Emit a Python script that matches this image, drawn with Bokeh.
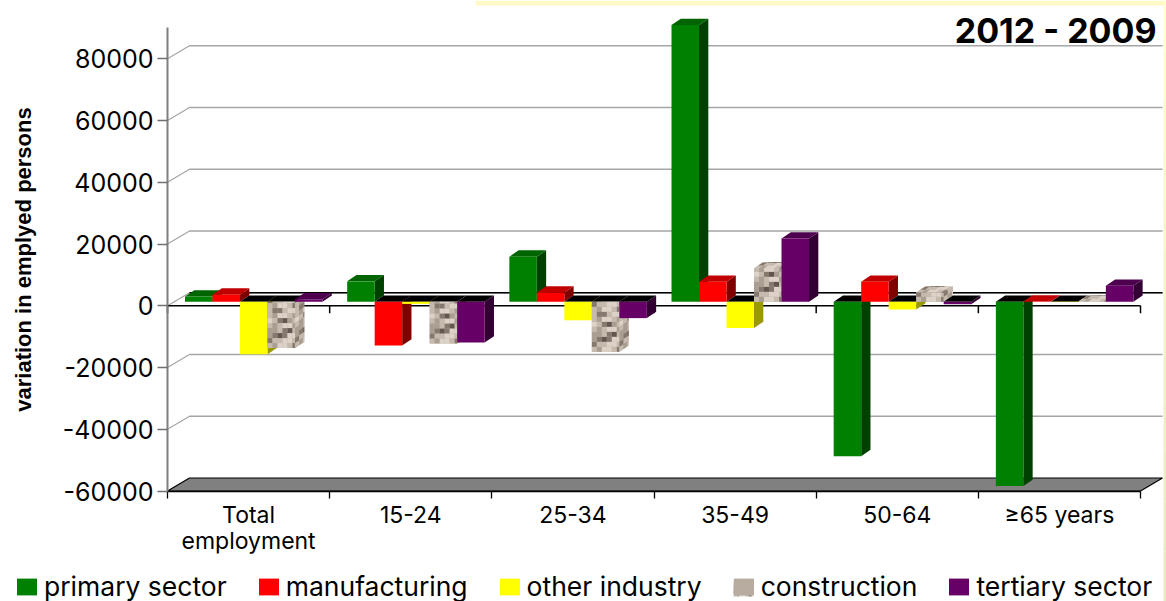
from bokeh.embed import file_html
from bokeh.resources import INLINE
from bokeh.plotting import figure
from bokeh.models import (Range1d, LinearAxis, FixedTicker, Legend, LegendItem)

# Chart values: change in employed persons by age band and sector
categories = ["Total\nemployment", "15-24", "25-34", "35-49", "50-64", "≥65 years"]
series_names = ["primary sector", "manufacturing", "other industry", "construction", "tertiary sector"]
primary_sector = [1700, 6600, 14600, 89600, -50000, -59700]
manufacturing = [2300, -14200, 3000, 6500, 6500, 100]
other_industry = [-17000, -700, -6000, -8500, -2500, -100]
construction = [-15000, -13500, -16200, 10800, 3000, 100]
tertiary_sector = [800, -13200, -5300, 20500, -800, 5200]
y_ticks = [-60000, -40000, -20000, 0, 20000, 40000, 60000, 80000]
title_text = "2012 - 2009"
y_title = "variation in emplyed persons"

all_series = [primary_sector, manufacturing, other_industry, construction, tertiary_sector]
front_colors = ["#008000", "#FF0000", "#FFFF00", "#B8ACA0", "#660066"]
top_colors = ["#006400", "#C00000", "#C8C800", "#C8BEB2", "#4D004D"]
side_colors = ["#004000", "#800000", "#999900", "#A89C90", "#330033"]

# Page geometry, as pixels per data unit
W, H = 1166, 601
GROUP_PX = 162.17
VALUE_PX = 185.25 / 60000
LEFT_PX = 167.0
ZERO_PX = 305.25


def px_x(px):
    return px / GROUP_PX


def px_y(px):
    return px / VALUE_PX


def page_x(px):
    return (px - LEFT_PX) / GROUP_PX


def page_y(px):
    return (ZERO_PX - px) / VALUE_PX


WALL_X, WALL_Y = px_x(22), px_y(13)
BAR_W = px_x(27.5)
BAR_GAP = px_x(12.5)
BAR_X, BAR_Y = px_x(5), px_y(4)
DEPTH_X, DEPTH_Y = px_x(9.3), px_y(6.3)

p = figure(width=W, height=H, output_backend="svg", toolbar_location=None,
           x_range=Range1d(page_x(0), page_x(W)), y_range=Range1d(page_y(H), page_y(0)),
           min_border=0, outline_line_color=None, x_axis_type=None, y_axis_type=None)
p.grid.visible = False
p.background_fill_color = "white"
p.border_fill_color = "white"

# Pale slide edge along the top and right of the page
p.quad(left=[page_x(475)], right=[page_x(W)], top=[page_y(0)], bottom=[page_y(5)],
       fill_color="#FFF9C8", line_color=None)
edge_steps = 12
p.quad(left=[page_x(1163)] * edge_steps, right=[page_x(W)] * edge_steps,
       top=[page_y(H * k / edge_steps) for k in range(edge_steps)],
       bottom=[page_y(H * (k + 1) / edge_steps) for k in range(edge_steps)],
       fill_color=[f"#{255 - 2 * k:02X}{255 - 2 * k:02X}{204 - 1 * k:02X}" for k in range(edge_steps)],
       line_color=None)

# Back wall gridlines with their diagonal returns to the axis
grid_xs = [[0, WALL_X, len(categories) + WALL_X] for v in y_ticks if v != -60000]
grid_ys = [[v, v + WALL_Y, v + WALL_Y] for v in y_ticks if v != -60000]
p.multi_line(grid_xs, grid_ys, line_color="#A6A6A6", line_width=1.3)

# Floor of the chart box
n_groups = len(categories)
floor_v = min(y_ticks)
p.patch([0, WALL_X, n_groups + WALL_X, n_groups],
        [floor_v, floor_v + WALL_Y, floor_v + WALL_Y, floor_v],
        fill_color="#808080", line_color="#000000", line_width=1.2)

# Zero plane: back edge, front edge and its tick marks
p.line([WALL_X, n_groups + WALL_X], [WALL_Y, WALL_Y], line_color="#000000", line_width=1.5)
p.line([0, n_groups], [0, 0], line_color="#000000", line_width=1.5)
tick_len = px_y(7.5)
p.multi_line([[k, k] for k in range(n_groups + 1)], [[0, -tick_len] for _ in range(n_groups + 1)],
             line_color="#000000", line_width=1.5)

# Stone tile used for the construction series
stone_tile = ["bcaabdcb",
              "ccdbbaab",
              "aacbcded",
              "bdebabcc",
              "bcbaacab",
              "caabdecb",
              "bccbbcaa",
              "dbaacbbd"]
stone_shades = {"a": "#DCD2C8", "b": "#C6BAAE", "c": "#AA9E92", "d": "#85796F", "e": "#61574F"}


def stone_face(origin, u, v, cell=5.0):
    """Tile a parallelogram given in data units with stone cells; u and v are edges."""
    xs, ys, colors = [], [], []
    u_len = ((u[0] / px_x(1)) ** 2 + (u[1] / px_y(1)) ** 2) ** 0.5
    v_len = ((v[0] / px_x(1)) ** 2 + (v[1] / px_y(1)) ** 2) ** 0.5
    if u_len < 0.5 or v_len < 0.5:
        return xs, ys, colors
    nu, nv = max(1, int(u_len // cell + 1)), max(1, int(v_len // cell + 1))
    for a in range(nu):
        for b in range(nv):
            a0, a1 = a * cell / u_len, min(1.0, (a + 1) * cell / u_len)
            b0, b1 = b * cell / v_len, min(1.0, (b + 1) * cell / v_len)
            if a0 >= 1 or b0 >= 1:
                continue
            corners = [(a0, b0), (a1, b0), (a1, b1), (a0, b1)]
            xs.append([origin[0] + s * u[0] + t * v[0] for s, t in corners])
            ys.append([origin[1] + s * u[1] + t * v[1] for s, t in corners])
            colors.append(stone_shades[stone_tile[b % 8][(a + 2 * b) % 8]])
    return xs, ys, colors


legend_items = []
for j, (name, values) in enumerate(zip(series_names, all_series)):
    left = [i + BAR_X + BAR_GAP + j * BAR_W for i in range(n_groups)]
    right = [x + BAR_W for x in left]
    low = [BAR_Y + min(v, 0) for v in values]
    high = [BAR_Y + max(v, 0) for v in values]

    side_x = [[r, r + DEPTH_X, r + DEPTH_X, r] for r in right]
    side_y = [[b, b + DEPTH_Y, t + DEPTH_Y, t] for b, t in zip(low, high)]
    top_x = [[l, r, r + DEPTH_X, l + DEPTH_X] for l, r in zip(left, right)]
    top_y = [[t, t, t + DEPTH_Y, t + DEPTH_Y] for t in high]
    top_fill = ["#000000" if v < 0 else top_colors[j] for v in values]

    p.patches(side_x, side_y, fill_color=side_colors[j], line_color=None)
    p.patches(top_x, top_y, fill_color=top_fill, line_color=None)
    front = p.quad(left=left, right=right, bottom=low, top=high,
                   fill_color=front_colors[j], line_color=None)
    legend_items.append(LegendItem(label=name, renderers=[front]))

    if name == "construction":
        sx, sy, sc = [], [], []
        for l, r, b, t, v in zip(left, right, low, high, values):
            faces = [((l, b), (r - l, 0), (0, t - b)),
                     ((r, b), (DEPTH_X, DEPTH_Y), (0, t - b))]
            if v > 0:
                faces.append(((l, t), (r - l, 0), (DEPTH_X, DEPTH_Y)))
            for origin, u, w in faces:
                fx, fy, fc = stone_face(origin, u, w)
                sx += fx
                sy += fy
                sc += fc
        p.patches(sx, sy, fill_color=sc, line_color=None)

# Axes sit inside the full-page frame at fixed data locations
y_axis = LinearAxis(fixed_location=0, ticker=FixedTicker(ticks=y_ticks), bounds=(-60000, 90000))
y_axis.axis_line_color = "#7F7F7F"
y_axis.axis_line_width = 2
y_axis.major_tick_line_color = "#6F6F6F"
y_axis.major_tick_line_width = 1.3
y_axis.major_tick_in = 0
y_axis.major_tick_out = 10
y_axis.minor_tick_line_color = None
y_axis.major_label_standoff = 4
y_axis.major_label_text_font = "Inter"
y_axis.major_label_text_font_size = "25px"
y_axis.major_label_text_color = "#000000"
y_axis.major_label_overrides = {v: str(v) for v in y_ticks}
y_axis.axis_label = y_title
y_axis.axis_label_standoff = 24
y_axis.axis_label_text_font = "Liberation Sans"
y_axis.axis_label_text_font_style = "bold"
y_axis.axis_label_text_font_size = "22px"
y_axis.axis_label_text_color = "#000000"
p.add_layout(y_axis, "left")

centers = [i + 0.5 for i in range(n_groups)]
edges = list(range(n_groups + 1))
x_axis = LinearAxis(fixed_location=-60000, ticker=FixedTicker(ticks=centers, minor_ticks=edges),
                    bounds=(0, n_groups))
x_axis.axis_line_color = "#000000"
x_axis.axis_line_width = 1.3
x_axis.major_tick_in = 0
x_axis.major_tick_out = 0
x_axis.minor_tick_in = 0
x_axis.minor_tick_out = 7
x_axis.minor_tick_line_color = "#000000"
x_axis.minor_tick_line_width = 1.3
x_axis.major_label_standoff = 3
x_axis.major_label_overrides = dict(zip(centers, categories))
x_axis.major_label_text_font = "Inter"
x_axis.major_label_text_font_size = "23px"
x_axis.major_label_text_line_height = 0.92
x_axis.major_label_text_color = "#000000"
p.add_layout(x_axis, "below")

# Chart year span, top right
p.text(x=[page_x(1156)], y=[page_y(30)], text=[title_text], text_align="right",
       text_baseline="middle", text_font_style="bold", text_font_size="34px",
       text_color="#000000", text_font={"value": "Inter"})

legend = Legend(items=legend_items, orientation="horizontal", location=(14, -1),
                spacing=29, glyph_width=25, glyph_height=21, label_standoff=5,
                padding=0, margin=0, border_line_color=None, background_fill_color=None,
                label_text_font="Inter", label_text_font_size="26.5px", label_text_color="#000000")
p.add_layout(legend)

# Stone swatch laid over the construction legend key
swatch_x, swatch_y = page_x(733), page_y(596)
kx, ky, kc = stone_face((swatch_x, swatch_y), (px_x(19), 0), (0, px_y(17)), cell=3.0)
p.patches(kx, ky, fill_color=kc, line_color=None, level="overlay")

open("out.html", "w").write(file_html(p, INLINE))
